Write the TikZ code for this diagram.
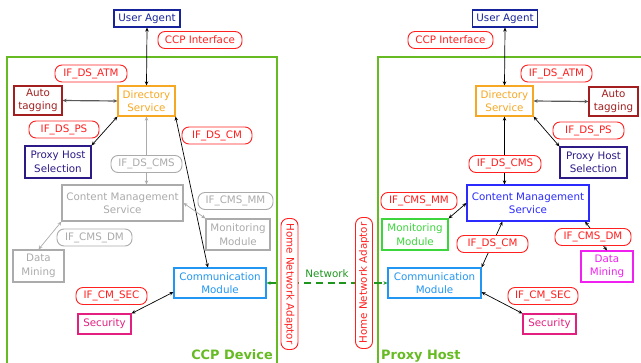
\documentclass[tikz,border=0pt]{standalone}
\usepackage{fontspec}
\setmainfont{DejaVu Sans}
\usetikzlibrary{arrows.meta}
\definecolor{frame}{HTML}{66BB22}
\definecolor{netgreen}{HTML}{1E961E}
\definecolor{ifred}{HTML}{FF2020}
\definecolor{dimgrey}{HTML}{ABABAB}
\definecolor{uablue}{HTML}{17239B}
\definecolor{atred}{HTML}{A31F1F}
\definecolor{dsorange}{HTML}{F7A823}
\definecolor{phsindigo}{HTML}{2E1A87}
\definecolor{cmblue}{HTML}{2196F3}
\definecolor{cmsblue}{HTML}{2B2BFF}
\definecolor{secpink}{HTML}{E3207F}
\definecolor{mmgreen}{HTML}{3CD63C}
\definecolor{dmmagenta}{HTML}{F020F0}

\begin{document}
\begin{tikzpicture}[x=0.03cm,y=-0.03cm,
    every node/.style={font=\fontsize{8.8}{11.5}\selectfont, align=center, inner sep=0pt},
    module/.style={draw=#1, text=#1, line width=0.9pt, fill=white},
    boxsize/.style 2 args={minimum width=#1*0.03cm, minimum height=#2*0.03cm},
    lbl/.style={draw=ifred, text=ifred, line width=0.8pt, rounded corners=6pt, fill=white,
                minimum height=17*0.03cm, minimum width=#1*0.03cm},
    faded/.style={draw=dimgrey, text=dimgrey},
    link/.style={<->, >={Stealth[length=3.5pt,width=3pt]}, line width=0.6pt},
    title/.style={font=\fontsize{11}{13}\selectfont\bfseries, text=frame}]
    \useasboundingbox (0,0) rectangle (641,363);
    % the two devices
    \draw[frame, line width=1pt] (7,57) rectangle (277,366);
    \draw[frame, line width=1pt] (378,57) rectangle (646,366);
    \node[title, anchor=base east] (lttl) at (273,359) {CCP Device};
    \node[title, anchor=base west] (rttl) at (381,359) {Proxy Host};

    % CCP device
    \node[module=uablue,    boxsize={66}{17}]  (lua)  at (147,18.5)  {User Agent};
    \node[module=dsorange,  boxsize={57}{30}]  (lds)  at (146.5,101) {Directory\\Service};
    \node[module=atred,     boxsize={48}{29}]  (lat)  at (38,100.5)  {Auto\\tagging};
    \node[module=phsindigo, boxsize={66}{32}]  (lphs) at (58,162)    {Proxy Host\\Selection};
    \node[module=dimgrey,   boxsize={121}{36}] (lcms) at (122.5,203) {Content Management\\Service};
    \node[module=dimgrey,   boxsize={64}{31}]  (lmm)  at (238,234.5) {Monitoring\\Module};
    \node[module=dimgrey,   boxsize={51}{32}]  (ldm)  at (38.5,266)  {Data\\Mining};
    \node[module=cmblue,    boxsize={92}{30}]  (lcm)  at (220,283)   {Communication\\Module};
    \node[module=secpink,   boxsize={53}{20}]  (lsec) at (104.5,324) {Security};

    \draw[link] (lua.south) -- (lds.north);
    \draw[link, draw=black!65, line width=1pt] (lat.east) -- (lds.west);
    \draw[link] (lds.south west) -- (lphs.north east);
    \draw[link] (lds.south east) -- (lcm.128);
    \draw[link, dimgrey] (lds.south) -- (lds.south |- lcms.north);
    \draw[link, dimgrey] (lcms.east) -- (lmm.north west);
    \draw[link, dimgrey] (lcms.south west) -- (ldm.north);
    \draw[link] (lcm.191) -- (lsec.north east);

    \node[lbl=84]        (lccp)  at (200,40)    {CCP Interface};
    \node[lbl=72]        (latm)  at (91,73.5)   {IF\_DS\_ATM};
    \node[lbl=70]        (lps)   at (64,129.5)  {IF\_DS\_PS};
    \node[lbl=70]        (ldscm) at (217,135.5) {IF\_DS\_CM};
    \node[lbl=71, faded] (lcmsl) at (146.5,164) {IF\_DS\_CMS};
    \node[lbl=75, faded] (lmml)  at (235.5,201) {IF\_CMS\_MM};
    \node[lbl=75, faded] (ldml)  at (94.5,237.5){IF\_CMS\_DM};
    \node[lbl=71]        (lsecl) at (111.5,296) {IF\_CM\_SEC};

    % proxy host
    \node[module=uablue,    boxsize={65}{17}]  (rua)  at (505,18.5)   {User Agent};
    \node[module=dsorange,  boxsize={57}{30}]  (rds)  at (504.5,101)  {Directory\\Service};
    \node[module=atred,     boxsize={49}{29}]  (rat)  at (613.5,101.5){Auto\\tagging};
    \node[module=phsindigo, boxsize={67}{31}]  (rphs) at (593.5,162.5){Proxy Host\\Selection};
    \node[module=cmsblue,   boxsize={122}{36}] (rcms) at (528,203)    {Content Management\\Service};
    \node[module=mmgreen,   boxsize={66}{31}]  (rmm)  at (415,234.5)  {Monitoring\\Module};
    \node[module=dmmagenta, boxsize={52}{31}]  (rdm)  at (607,266.5)  {Data\\Mining};
    \node[module=cmblue,    boxsize={93}{30}]  (rcm)  at (434.5,283)  {Communication\\Module};
    \node[module=secpink,   boxsize={53}{20}]  (rsec) at (549.5,324)  {Security};

    \draw[link] (rua.south) -- (rds.north);
    \draw[link, draw=black!65, line width=1pt] (rds.east) -- (rat.west);
    \draw[link] (rds.south east) -- (rphs.north west);
    \draw[link] (rds.south) -- (rds.south |- rcms.north);
    \draw[link] (rmm.north east) -- (rcms.west);
    \draw[link] (rcms.216) -- (rcm.north east);
    \draw[link] (rcms.342) -- (rdm.north);
    \draw[link] (rcm.349) -- (rsec.north west);

    \node[lbl=85] (rccp)  at (450.5,40)  {CCP Interface};
    \node[lbl=71] (ratm)  at (556.5,73.5){IF\_DS\_ATM};
    \node[lbl=71] (rps)   at (588.5,130.5){IF\_DS\_PS};
    \node[lbl=72] (rcmsl) at (505,164)   {IF\_DS\_CMS};
    \node[lbl=76] (rmml)  at (419,201)   {IF\_CMS\_MM};
    \node[lbl=71] (rdscm) at (492.5,244) {IF\_DS\_CM};
    \node[lbl=76] (rdml)  at (593,237)   {IF\_CMS\_DM};
    \node[lbl=70] (rsecl) at (543,296)   {IF\_CM\_SEC};

    % network between the two
    \draw[<->, >={Stealth[length=3.5pt,width=3pt]}, netgreen, line width=1pt,
          dash pattern=on 6pt off 4pt] (lcm.east) -- (rcm.west);
    \node[text=netgreen] (net) at (327,274) {Network};
    \node[lbl=131, rotate=-90] (lhna) at (289.5,284) {Home Network Adaptor};
    \node[lbl=131, rotate=90]  (rhna) at (364,283)   {Home Network Adaptor};
\end{tikzpicture}
\end{document}
